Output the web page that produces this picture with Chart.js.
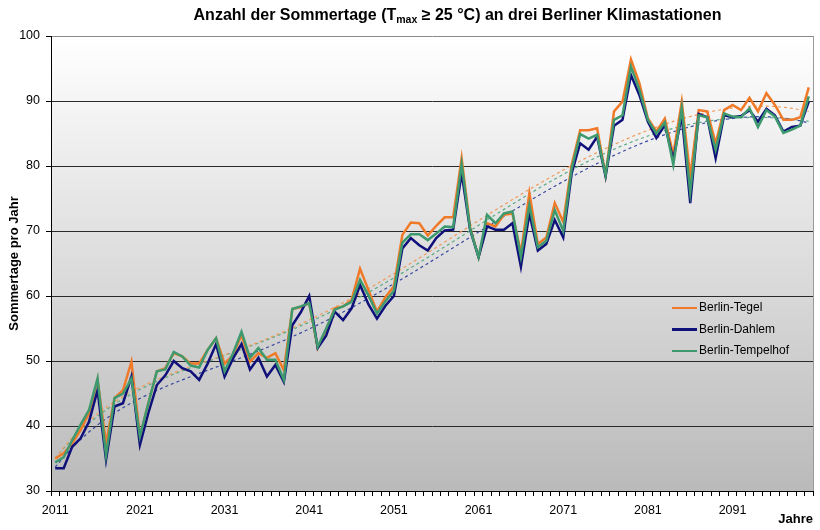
<!DOCTYPE html>
<html lang="de">
<head>
<meta charset="utf-8">
<title>Sommertage Berlin</title>
<script src="https://cdn.jsdelivr.net/npm/chart.js@4.4.1/dist/chart.umd.min.js"></script>
<style>
  body { margin: 0; background: #fff; font-family: Arial, "Liberation Sans", sans-serif; }
  #wrap { position: relative; width: 820px; height: 530px; }
  #titel { position: absolute; left: 0; top: 6px; width: 820px; padding-left: 95px; box-sizing: border-box;
           text-align: center; font-weight: bold; font-size: 16px; color: #000; white-space: nowrap; }
  #titel sub { font-size: 10.5px; vertical-align: -3px; line-height: 0; }
  #legende { position: absolute; left: 672px; top: 297px; font-size: 12px; color: #000; }
  .eintrag { height: 21.5px; line-height: 21px; white-space: nowrap; }
  .eintrag span { display: inline-block; width: 25px; height: 2.5px; vertical-align: middle; margin-right: 2px; }
</style>
</head>
<body>
<div id="wrap">
  <canvas id="sommerChart" width="820" height="530"></canvas>
  <div id="titel">Anzahl der Sommertage (T<sub>max</sub> ≥ 25 °C) an drei Berliner Klimastationen</div>
  <div id="legende"></div>
</div>
<script>
// --- DATEN ---
const jahre = Array.from({ length: 90 }, (_, i) => String(2011 + i));
const achsenJahre = ['2011', '2021', '2031', '2041', '2051', '2061', '2071', '2081', '2091'];

const tegel = [
  35.0, 35.8, 37.3, 39.4, 42.0, 47.1, 37.3, 44.3, 45.5, 49.9,
  38.4, 43.5, 48.4, 48.9, 51.2, 50.7, 49.6, 49.6, 51.7, 53.5,
  49.6, 50.9, 54.0, 49.9, 51.2, 50.5, 51.2, 48.6, 58.0, 58.3,
  58.9, 52.0, 54.8, 58.1, 58.4, 59.4, 64.2, 60.9, 57.6, 59.8,
  61.5, 69.4, 71.3, 71.2, 69.3, 70.8, 72.1, 72.1, 81.2, 70.5,
  66.0, 71.2, 70.7, 72.5, 72.7, 66.6, 75.8, 68.0, 69.0, 74.3,
  71.4, 80.2, 85.5, 85.5, 85.8, 78.6, 88.4, 89.9, 96.4, 92.7,
  87.3, 85.3, 87.3, 81.7, 89.9, 78.4, 88.6, 88.4, 83.5, 88.6,
  89.4, 88.6, 90.5, 88.4, 91.2, 89.4, 87.1, 87.1, 87.5, 92.1
];
const dahlem = [
  33.5, 33.5, 36.8, 38.1, 40.7, 45.5, 34.8, 43.0, 43.5, 47.6,
  37.1, 42.0, 46.3, 47.8, 50.0, 48.9, 48.4, 47.1, 49.6, 52.6,
  47.6, 50.4, 52.6, 48.7, 50.5, 47.6, 49.4, 46.8, 55.5, 57.5,
  60.0, 52.0, 53.9, 57.6, 56.3, 58.1, 61.7, 58.7, 56.5, 58.5,
  60.0, 67.3, 68.9, 67.8, 67.0, 68.9, 70.1, 70.2, 78.9, 70.2,
  66.0, 70.7, 70.2, 70.2, 71.2, 64.5, 72.7, 67.0, 68.0, 71.7,
  69.0, 78.9, 83.5, 82.5, 84.5, 78.4, 86.2, 87.1, 94.0, 90.9,
  86.8, 84.3, 86.3, 81.0, 87.8, 74.3, 88.0, 87.5, 81.2, 87.8,
  87.5, 87.7, 88.6, 86.8, 88.8, 87.8, 85.3, 86.0, 86.2, 89.9
];
const tempelhof = [
  34.4, 35.2, 37.8, 40.2, 42.5, 47.3, 35.5, 44.3, 45.0, 47.3,
  38.4, 43.5, 48.4, 48.7, 51.4, 50.7, 49.3, 49.0, 51.7, 53.5,
  48.4, 51.2, 54.5, 50.5, 52.0, 50.2, 50.2, 47.1, 58.0, 58.4,
  58.9, 52.2, 55.0, 57.9, 58.4, 59.1, 62.5, 60.1, 57.3, 59.2,
  60.8, 68.2, 69.5, 69.5, 68.6, 69.6, 70.7, 70.6, 80.3, 70.3,
  66.0, 72.5, 71.2, 72.7, 73.0, 66.0, 74.0, 67.5, 68.5, 73.2,
  70.0, 79.6, 84.9, 84.2, 84.8, 78.6, 87.1, 87.8, 95.3, 91.7,
  87.1, 85.0, 86.7, 80.2, 88.9, 76.0, 87.8, 87.5, 82.5, 88.1,
  87.6, 87.5, 88.9, 86.0, 88.6, 87.6, 85.1, 85.6, 86.2, 90.7
];

const stationen = ['Berlin-Tegel', 'Berlin-Dahlem', 'Berlin-Tempelhof'];
const farben = ['#F07A28', '#10107A', '#3E9A6E'];
const trendFarben = ['#F09A58', '#3848A0', '#5AAA84'];

// --- TRENDLINIE (Polynom 6. Grades, kleinste Quadrate) ---
function trend(werte, grad) {
  const n = werte.length, m = grad + 1;
  const A = Array.from({ length: m }, () => new Array(m + 1).fill(0));
  werte.forEach((y, i) => {
    const x = i / (n - 1);
    for (let r = 0; r < m; r++) {
      for (let c = 0; c < m; c++) A[r][c] += Math.pow(x, r + c);
      A[r][m] += y * Math.pow(x, r);
    }
  });
  for (let k = 0; k < m; k++) {
    for (let r = k + 1; r < m; r++) {
      const f = A[r][k] / A[k][k];
      for (let c = k; c <= m; c++) A[r][c] -= f * A[k][c];
    }
  }
  const b = new Array(m).fill(0);
  for (let r = m - 1; r >= 0; r--) {
    let s = A[r][m];
    for (let c = r + 1; c < m; c++) s -= A[r][c] * b[c];
    b[r] = s / A[r][r];
  }
  return werte.map((_, i) => {
    const x = i / (n - 1);
    return b.reduce((s, k, j) => s + k * Math.pow(x, j), 0);
  });
}

// --- HINTERGRUND ---
const hintergrund = {
  id: 'hintergrund',
  beforeDraw(chart) {
    const { ctx, chartArea: a } = chart;
    const g = ctx.createLinearGradient(0, a.top, 0, a.bottom);
    g.addColorStop(0, '#ffffff');
    g.addColorStop(1, '#bababa');
    ctx.save();
    ctx.fillStyle = g;
    ctx.fillRect(a.left, a.top, a.right - a.left, a.bottom - a.top);
    ctx.restore();
  },
  afterDraw(chart) {
    const { ctx, chartArea: a } = chart;
    ctx.save();
    ctx.strokeStyle = '#9a9a9a';
    ctx.lineWidth = 1;
    ctx.beginPath();
    ctx.moveTo(Math.round(a.right) + 0.5, a.top);
    ctx.lineTo(Math.round(a.right) + 0.5, a.bottom);
    ctx.stroke();
    ctx.restore();
  }
};

const reihen = [tegel, dahlem, tempelhof];
const datasets = [];
reihen.forEach((werte, i) => {
  datasets.push({
    label: stationen[i],
    data: werte,
    borderColor: farben[i],
    borderWidth: 2.5,
    pointRadius: 0,
    tension: 0,
    order: 3 - i
  });
});
reihen.forEach((werte, i) => {
  datasets.push({
    label: 'Trend ' + stationen[i],
    data: trend(werte, 6),
    borderColor: trendFarben[i],
    borderWidth: 1.2,
    borderDash: [3, 3],
    pointRadius: 0,
    tension: 0,
    order: 10 + i
  });
});

const schrift = 'Arial, "Liberation Sans", sans-serif';

new Chart(document.getElementById('sommerChart'), {
  type: 'line',
  data: { labels: jahre, datasets: datasets },
  options: {
    responsive: false,
    animation: false,
    layout: { padding: { top: 36, right: 7, left: 0, bottom: 0 } },
    plugins: {
      legend: { display: false },
      tooltip: { enabled: false },
      title: { display: false }
    },
    scales: {
      x: {
        offset: true,
        grid: { display: true, drawOnChartArea: false, drawTicks: true, tickLength: 5, tickColor: '#000', offset: true },
        border: { display: true, color: '#000', width: 1 },
        ticks: {
          autoSkip: false, maxRotation: 0, minRotation: 0, padding: 7, color: '#000',
          font: { family: schrift, size: 12.5 },
          callback: function (v) {
            const j = this.getLabelForValue(v);
            return achsenJahre.includes(j) ? j : '';
          }
        },
        title: { display: true, text: 'Jahre', align: 'end', color: '#000', padding: { top: 0, bottom: 3 },
                 font: { family: schrift, size: 13, weight: 'bold' } },
        afterFit: s => { s.height = 39; }
      },
      y: {
        min: 30, max: 100,
        grid: {
          color: c => c.tick.value === 100 ? '#8a8a8a' : '#2a2a2a',
          tickColor: '#000', tickLength: 5, lineWidth: 1
        },
        border: { display: true, color: '#000', width: 1 },
        ticks: { stepSize: 10, padding: 6, color: '#000', font: { family: schrift, size: 12.5 } },
        title: { display: true, text: 'Sommertage pro Jahr', color: '#000', padding: { top: 7, bottom: 0 },
                 font: { family: schrift, size: 13, weight: 'bold' } },
        afterFit: s => { s.width = 51; }
      }
    }
  },
  plugins: [hintergrund]
});

// --- LEGENDE ---
const legende = document.getElementById('legende');
stationen.forEach((name, i) => {
  legende.innerHTML += `<div class="eintrag"><span style="background:${farben[i]}"></span>${name}</div>`;
});
</script>
</body>
</html>
